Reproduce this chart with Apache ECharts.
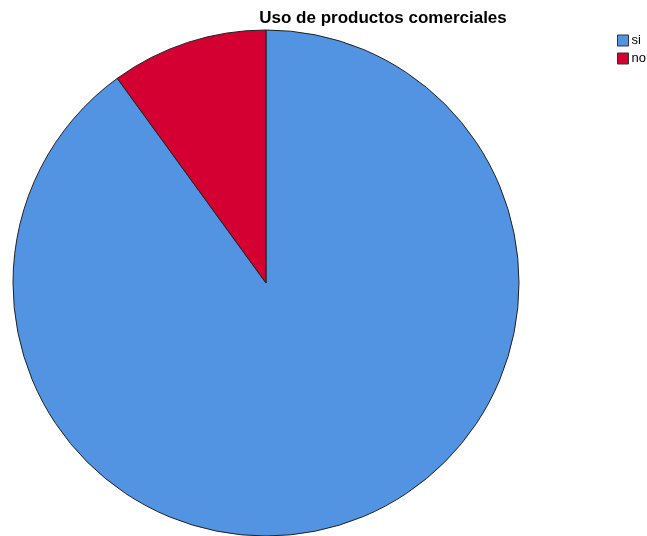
<!DOCTYPE html>
<html>
<head>
<meta charset="utf-8">
<script src="https://cdn.jsdelivr.net/npm/echarts@6/dist/echarts.min.js"></script>
<style>
  html, body { margin: 0; padding: 0; background: #fff; }
  #chart { width: 647px; height: 536px; }
</style>
</head>
<body>
<div id="chart"></div>
<script>
// Respuestas sobre el uso de productos comerciales (%)
const categories = ['si', 'no'];
const values = [90, 10];
const colors = ['#5294e2', '#d50032'];

const chart = echarts.init(document.getElementById('chart'), null, { renderer: 'canvas' });

chart.setOption({
  animation: false,
  backgroundColor: '#ffffff',
  title: {
    text: 'Uso de productos comerciales',
    left: 378,
    top: 5,
    textAlign: 'center',
    textStyle: {
      fontFamily: 'Liberation Sans, Arial, sans-serif',
      fontSize: 17,
      fontWeight: 'bold',
      color: '#000'
    }
  },
  legend: {
    orient: 'vertical',
    left: 612,
    top: 29,
    itemWidth: 11,
    itemHeight: 11,
    itemGap: 5,
    icon: 'rect',
    data: categories,
    textStyle: {
      fontFamily: 'Liberation Sans, Arial, sans-serif',
      fontSize: 13,
      color: '#000',
      padding: [0, 0, 0, -2]
    },
    itemStyle: { borderColor: '#333', borderWidth: 1 }
  },
  series: [{
    type: 'pie',
    center: [266, 283],
    radius: [0, 253],
    startAngle: 90,
    clockwise: true,
    label: { show: false },
    labelLine: { show: false },
    emphasis: { disabled: true },
    itemStyle: { borderColor: '#222', borderWidth: 1 },
    data: categories.map((c, i) => ({
      name: c,
      value: values[i],
      itemStyle: { color: colors[i] }
    }))
  }]
});
</script>
</body>
</html>
